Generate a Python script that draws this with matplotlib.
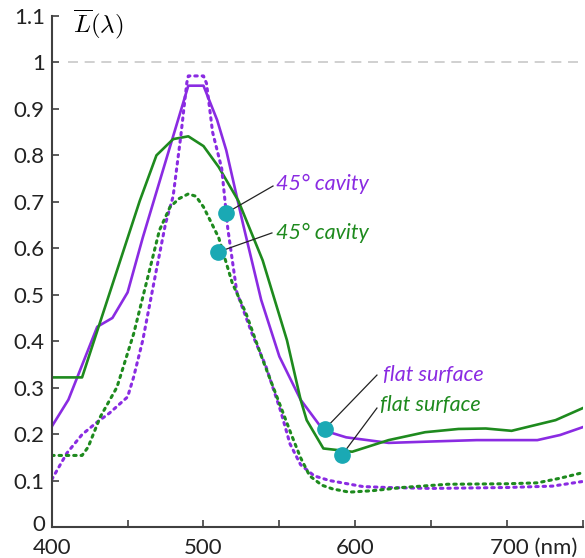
import matplotlib
matplotlib.use("Agg")
import matplotlib.pyplot as plt
from matplotlib.transforms import ScaledTranslation
import numpy as np

plt.rcParams['font.family'] = ['Lato', 'DejaVu Sans']
plt.rcParams['mathtext.fontset'] = 'cm'

PURPLE = '#8a2be2'
GREEN = '#1e8a1e'
CYAN = '#1aa9b4'

# purple solid (45 deg cavity)
ps_x = [400, 411, 430, 440, 450, 460, 470, 480, 490, 500, 509, 515, 526, 538,
        550, 564, 579, 594, 622, 650, 680, 720, 735, 750]
ps_y = [0.216, 0.274, 0.431, 0.450, 0.505, 0.623, 0.732, 0.841, 0.95, 0.95, 0.876, 0.811, 0.653, 0.489,
        0.367, 0.274, 0.208, 0.193, 0.181, 0.184, 0.187, 0.187, 0.198, 0.215]

# green solid (45 deg cavity)
gs_x = [400, 420, 458, 469, 480, 490, 500, 510, 523, 539, 555, 564, 568, 579,
        598, 622, 646, 668, 686, 703, 732, 750]
gs_y = [0.322, 0.322, 0.702, 0.80, 0.835, 0.841, 0.82, 0.775, 0.702, 0.574, 0.402, 0.274, 0.230, 0.169,
        0.162, 0.187, 0.204, 0.211, 0.212, 0.207, 0.230, 0.256]

# purple dotted (flat surface)
pd_x = [400, 410, 420, 430, 438, 450, 454, 460, 469, 475, 480, 485, 489, 490, 500, 502,
        506, 512, 516, 522, 532, 541, 551, 557, 564, 573, 583, 605, 621, 650, 700, 730, 750]
pd_y = [0.102, 0.159, 0.199, 0.226, 0.245, 0.280, 0.323, 0.402, 0.554, 0.653, 0.712, 0.84, 0.956, 0.971, 0.971, 0.955,
        0.85, 0.772, 0.643, 0.505, 0.416, 0.347, 0.248, 0.179, 0.134, 0.11, 0.10, 0.087, 0.085, 0.083, 0.085, 0.088, 0.098]

# green dotted (flat surface)
gd_x = [400, 420, 424, 432, 443, 454, 465, 471, 478, 484, 490, 495, 500, 510, 519, 528,
        539, 551, 558, 564, 570, 578, 585, 596, 611, 631, 661, 700, 720, 735, 750]
gd_y = [0.154, 0.154, 0.172, 0.237, 0.301, 0.416, 0.560, 0.639, 0.689, 0.707, 0.717, 0.712, 0.689, 0.623, 0.525, 0.460,
        0.360, 0.258, 0.198, 0.149, 0.11, 0.09, 0.082, 0.075, 0.078, 0.085, 0.092, 0.093, 0.095, 0.105, 0.117]

# annotations: marker, line end, text
labels = ['45° cavity', '45° cavity', 'flat surface', 'flat surface']
label_colors = [PURPLE, GREEN, PURPLE, GREEN]
mark_x = [515, 509.7, 580, 591.3]
mark_y = [0.676, 0.592, 0.211, 0.155]
end_x = [545.8, 545.1, 614.3, 614.3]
end_y = [0.734, 0.633, 0.327, 0.256]
text_x = [547.8, 547.8, 618.3, 616.3]
text_y = [0.738, 0.633, 0.327, 0.263]

fig = plt.figure(figsize=(5.85, 5.58), dpi=100)
ax = fig.add_axes([0.0884, 0.0556, 0.908, 0.9157])

ax.axhline(1.0, xmin=0.03, color='#c8c8c8', lw=1.2, dashes=(6, 4))

ax.plot(ps_x, ps_y, color=PURPLE, lw=1.9)
ax.plot(gs_x, gs_y, color=GREEN, lw=1.9)
ax.plot(pd_x, pd_y, color=PURPLE, lw=2.2, linestyle=(0, (0.8, 1.6)), dash_capstyle='round')
ax.plot(gd_x, gd_y, color=GREEN, lw=2.2, linestyle=(0, (0.8, 1.6)), dash_capstyle='round')

for i in range(len(labels)):
    ax.plot([mark_x[i], end_x[i]], [mark_y[i], end_y[i]], color='#222222', lw=0.9, zorder=4)
    ax.plot(mark_x[i], mark_y[i], 'o', color=CYAN, markersize=11, zorder=5)
    ax.text(text_x[i], text_y[i], labels[i], color=label_colors[i], fontsize=15.5,
            style='italic', ha='left', va='center')

ax.text(414, 1.083, r'$\overline{L}(\lambda)$', fontsize=18, ha='left', va='center')

ax.set_xlim(400, 750)
ax.set_ylim(0, 1.1)
ax.set_xticks([400, 450, 500, 550, 600, 650, 700, 750])
ax.set_xticklabels(['400', '', '500', '', '600', '', '700 (nm)', ''])
yt = np.round(np.arange(0, 1.11, 0.1), 1)
ax.set_yticks(yt)
ax.set_yticklabels(['%g' % v for v in yt])

for s in ['top', 'right']:
    ax.spines[s].set_visible(False)
for s in ['left', 'bottom']:
    ax.spines[s].set_color('#404040')
    ax.spines[s].set_linewidth(1.5)
ax.tick_params(direction='in', length=5, width=1.2, color='#404040', labelsize=16,
               labelcolor='#222222')
ax.tick_params(axis='x', pad=8)
ax.tick_params(axis='y', pad=5)

# keep "700" centred on its tick, "(nm)" hanging to the right
nm_lbl = ax.get_xticklabels()[6]
nm_lbl.set_ha('left')
nm_lbl.set_transform(nm_lbl.get_transform() + ScaledTranslation(-0.17, 0, fig.dpi_scale_trans))

# nudge the "0" label up a little so it clears "400"
zero_lbl = ax.get_yticklabels()[0]
zero_lbl.set_transform(zero_lbl.get_transform() + ScaledTranslation(0, 0.04, fig.dpi_scale_trans))

fig.savefig('out.png', dpi=100)
